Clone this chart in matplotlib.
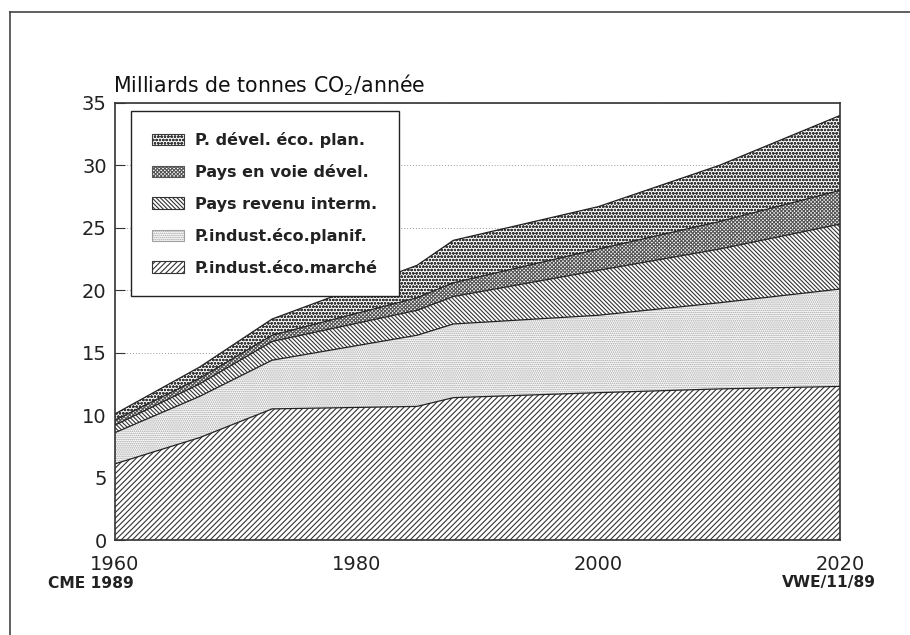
import matplotlib
matplotlib.use("Agg")
import matplotlib.pyplot as plt
from matplotlib.patches import Patch
from matplotlib.lines import Line2D
import numpy as np

plt.rcParams['font.family'] = ['DejaVu Sans']
plt.rcParams['hatch.linewidth'] = 0.8

# Years and stacked bands (milliards de tonnes CO2 / année)
years = [1960, 1967, 1973, 1985, 1988, 2000, 2010, 2020]
market_industrial = [6.1, 8.2, 10.5, 10.7, 11.4, 11.8, 12.1, 12.3]      # P.indust.éco.marché
planned_industrial = [2.5, 3.3, 3.9, 5.7, 5.9, 6.2, 6.9, 7.8]           # P.indust.éco.planif.
middle_income = [0.6, 1.0, 1.5, 2.0, 2.2, 3.6, 4.3, 5.2]                # Pays revenu interm.
developing = [0.4, 0.45, 0.5, 1.0, 1.1, 1.7, 2.2, 2.7]                  # Pays en voie dével.
developed_planned = [0.5, 0.9, 1.3, 2.6, 3.4, 3.4, 4.5, 6.0]            # P. dével. éco. plan.

labels = ["P.indust.éco.marché", "P.indust.éco.planif.", "Pays revenu interm.",
          "Pays en voie dével.", "P. dével. éco. plan."]
hatches = ['//////', '........', '\\' * 8, 'x' * 9, 'ooooo']
hatch_colors = ['#333333', '#a0a0a0', '#333333', '#555555', '#3a3a3a']

x_ticks = [1960, 1980, 2000, 2020]
y_ticks = [0, 5, 10, 15, 20, 25, 30, 35]

W, H = 910, 635
fig = plt.figure(figsize=(W / 100, H / 100), dpi=100)
ax = fig.add_axes([115 / W, (H - 540) / H, 725 / W, 437 / H])

series = [market_industrial, planned_industrial, middle_income, developing, developed_planned]
yrs = np.array(years, dtype=float)
base = np.zeros(len(years))
for vals, lab, h, hc in zip(series, labels, hatches, hatch_colors):
    top = base + np.array(vals, dtype=float)
    ax.fill_between(yrs, base, top, facecolor='white', edgecolor=hc, hatch=h,
                    linewidth=0, zorder=2)
    ax.plot(yrs, top, color='#222222', lw=0.9, zorder=3)
    base = top

ax.set_xlim(1960, 2020)
ax.set_ylim(0, 35)
ax.set_xticks(x_ticks)
ax.set_xticks(np.arange(1960, 2021, 5), minor=True)
ax.set_yticks(y_ticks)
ax.tick_params(axis='both', which='both', direction='in', color='#333333')
ax.tick_params(axis='x', which='major', length=0, pad=11, labelsize=14)
ax.tick_params(axis='x', which='minor', length=7, width=0.8)
ax.tick_params(axis='y', which='major', length=7, width=0.8, pad=6, labelsize=14)
for lbl in ax.get_xticklabels() + ax.get_yticklabels():
    lbl.set_color('#222222')
ax.grid(axis='y', linestyle=(0, (1, 2)), color='#999999', lw=0.7, zorder=1)
ax.set_axisbelow(True)
for sp in ax.spines.values():
    sp.set_color('#333333')
    sp.set_linewidth(1.2)
    sp.set_zorder(4)

fig.text(113 / W, 1 - 92 / H, "Milliards de tonnes CO$_2$/année",
         fontsize=14.8, ha='left', va='baseline', color='#111111')

fig.text(48 / W, 1 - 583 / H, "CME 1989", fontsize=11.2, fontweight='bold',
         ha='left', va='center', color='#222222')
fig.text(876 / W, 1 - 583 / H, "VWE/11/89", fontsize=11.2, fontweight='bold',
         ha='right', va='center', color='#222222')

# legend (top band first)
handles = []
for lab, h, hc in zip(labels, hatches, hatch_colors):
    handles.append(Patch(facecolor='white', edgecolor=hc, hatch=h, linewidth=0.8, label=lab))
handles = handles[::-1]
leg = ax.legend(handles=handles, loc='upper left', bbox_to_anchor=(16 / 725, (540 - 111) / 437),
                borderaxespad=0, fancybox=False, framealpha=1, edgecolor='#222222',
                prop={'size': 11.5, 'weight': 'bold'}, handlelength=2.0, handleheight=0.7,
                labelspacing=1.03, borderpad=1.3, handletextpad=0.7)
leg.get_frame().set_linewidth(1.0)
leg.set_zorder(5)
for t in leg.get_texts():
    t.set_color('#222222')

# scan frame lines (left and top)
fig.add_artist(Line2D([10 / W, 10 / W], [0, 1 - 12 / H], transform=fig.transFigure,
                      color='#444444', lw=1.2))
fig.add_artist(Line2D([10 / W, 1], [1 - 12 / H, 1 - 12 / H], transform=fig.transFigure,
                      color='#444444', lw=1.2))

fig.savefig("out.png", dpi=100)
